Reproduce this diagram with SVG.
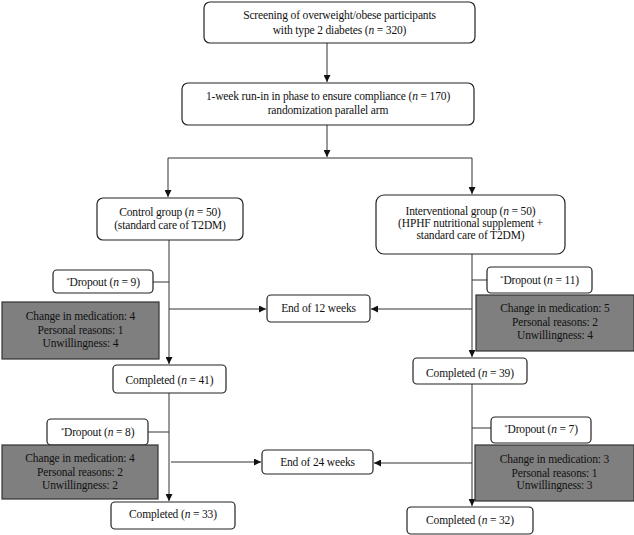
<svg xmlns="http://www.w3.org/2000/svg" width="634" height="535" viewBox="0 0 634 535">
<defs>
<marker id="ah" viewBox="0 0 10 10" refX="10" refY="5" markerWidth="7" markerHeight="7" orient="auto" markerUnits="userSpaceOnUse"><path d="M0,0 L10,5 L0,10 z" fill="#111"/></marker>
<style>
.b{fill:#fff;stroke:#222;stroke-width:1.2}
.g{fill:#7f7f7f;stroke:#333;stroke-width:1.2}
.t{font-family:"Liberation Serif","Times New Roman",serif;font-size:11.5px;letter-spacing:-0.15px;fill:#111;text-anchor:middle}
.c{fill:none;stroke:#333;stroke-width:1}
.a{fill:none;stroke:#333;stroke-width:1;marker-end:url(#ah)}
</style>
</defs>
<rect width="634" height="535" fill="#fff"/>
<g id="connectors">
<path class="a" d="M327,43 V82"/>
<path class="a" d="M327,125 V157"/>
<path class="c" d="M168,158 H472"/>
<path class="a" d="M168,158 V197"/>
<path class="a" d="M472,158 V194"/>
<path class="a" d="M169,240 V364"/>
<path class="c" d="M153,282 H169"/>
<path class="a" d="M169,309 H266"/>
<path class="a" d="M472,254 V357"/>
<path class="c" d="M472,280 H487"/>
<path class="a" d="M472,309 H371"/>
<path class="a" d="M169,393 V501"/>
<path class="c" d="M148,432 H169"/>
<path class="a" d="M171,462 H261"/>
<path class="a" d="M472,384 V506"/>
<path class="c" d="M472,428 H491"/>
<path class="a" d="M472,463 H374"/>
</g>
<g id="screening"><rect class="b" x="204" y="2" width="271" height="41" rx="6"/>
<text class="t" x="339.5" y="19">Screening of overweight/obese participants</text>
<text class="t" x="339.5" y="34">with type 2 diabetes (<tspan font-style="italic">n</tspan> = 320)</text></g>
<g id="runin"><rect class="b" x="182" y="83" width="292" height="42" rx="6"/>
<text class="t" x="328" y="100">1-week run-in in phase to ensure compliance (<tspan font-style="italic">n</tspan> = 170)</text>
<text class="t" x="328" y="114">randomization parallel arm</text></g>
<g id="control"><rect class="b" x="97" y="198" width="146" height="42" rx="6"/>
<text class="t" x="170" y="216">Control group (<tspan font-style="italic">n</tspan> = 50)</text>
<text class="t" x="170" y="229">(standard care of T2DM)</text></g>
<g id="interventional"><rect class="b" x="376" y="195" width="189" height="59" rx="8"/>
<text class="t" x="470.5" y="215">Interventional group (<tspan font-style="italic">n</tspan> = 50)</text>
<text class="t" x="470.5" y="227">(HPHF nutritional supplement +</text>
<text class="t" x="470.5" y="239">standard care of T2DM)</text></g>
<g id="dropout1c"><rect class="b" x="53" y="270" width="100" height="23" rx="4"/>
<text class="t" x="103" y="286"><tspan font-size="7" dy="-4">*</tspan><tspan dy="4">Dropout (</tspan><tspan font-style="italic">n</tspan> = 9)</text></g>
<g id="reasons1c"><rect class="g" x="2" y="302" width="157" height="57"/>
<text class="t" x="80.5" y="320">Change in medication: 4</text>
<text class="t" x="80.5" y="334">Personal reasons: 1</text>
<text class="t" x="80.5" y="347">Unwillingness: 4</text></g>
<g id="end12"><rect class="b" x="267" y="295" width="103" height="27" rx="4"/>
<text class="t" x="318.5" y="312">End of 12 weeks</text></g>
<g id="dropout1i"><rect class="b" x="487" y="267" width="105" height="26" rx="4"/>
<text class="t" x="539.5" y="284"><tspan font-size="7" dy="-4">*</tspan><tspan dy="4">Dropout (</tspan><tspan font-style="italic">n</tspan> = 11)</text></g>
<g id="reasons1i"><rect class="g" x="476" y="295" width="158" height="56"/>
<text class="t" x="555" y="312">Change in medication: 5</text>
<text class="t" x="555" y="326">Personal reasons: 2</text>
<text class="t" x="555" y="339">Unwillingness: 4</text></g>
<g id="completed41"><rect class="b" x="113" y="365" width="113" height="28" rx="4"/>
<text class="t" x="169.5" y="384">Completed (<tspan font-style="italic">n</tspan> = 41)</text></g>
<g id="completed39"><rect class="b" x="413" y="358" width="114" height="26" rx="4"/>
<text class="t" x="470" y="377">Completed (<tspan font-style="italic">n</tspan> = 39)</text></g>
<g id="dropout2c"><rect class="b" x="47" y="419" width="101" height="26" rx="4"/>
<text class="t" x="97.5" y="436"><tspan font-size="7" dy="-4">*</tspan><tspan dy="4">Dropout (</tspan><tspan font-style="italic">n</tspan> = 8)</text></g>
<g id="reasons2c"><rect class="g" x="2" y="445" width="156" height="54"/>
<text class="t" x="80" y="462">Change in medication: 4</text>
<text class="t" x="80" y="476">Personal reasons: 2</text>
<text class="t" x="80" y="489">Unwillingness: 2</text></g>
<g id="end24"><rect class="b" x="262" y="450" width="111" height="24" rx="4"/>
<text class="t" x="317.5" y="466">End of 24 weeks</text></g>
<g id="dropout2i"><rect class="b" x="491" y="417" width="100" height="26" rx="4"/>
<text class="t" x="541" y="433"><tspan font-size="7" dy="-4">*</tspan><tspan dy="4">Dropout (</tspan><tspan font-style="italic">n</tspan> = 7)</text></g>
<g id="reasons2i"><rect class="g" x="475" y="445" width="159" height="56"/>
<text class="t" x="554.5" y="463">Change in medication: 3</text>
<text class="t" x="554.5" y="477">Personal reasons: 1</text>
<text class="t" x="554.5" y="489">Unwillingness: 3</text></g>
<g id="completed33"><rect class="b" x="111" y="502" width="124" height="27" rx="4"/>
<text class="t" x="173" y="518">Completed (<tspan font-style="italic">n</tspan> = 33)</text></g>
<g id="completed32"><rect class="b" x="407" y="507" width="126" height="27" rx="4"/>
<text class="t" x="470" y="524">Completed (<tspan font-style="italic">n</tspan> = 32)</text></g>
</svg>
